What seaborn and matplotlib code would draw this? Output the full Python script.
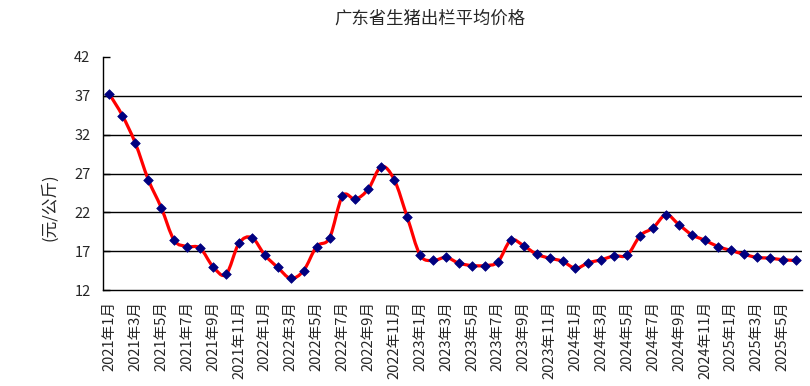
import numpy as np
import pandas as pd
import seaborn as sns
import matplotlib.pyplot as plt
from matplotlib.path import Path
from matplotlib.patches import PathPatch

# monthly average price, 2021-01 .. 2025-06 (yuan / kg)
years = [2021] * 12 + [2022] * 12 + [2023] * 12 + [2024] * 12 + [2025] * 6
months = list(range(1, 13)) * 4 + list(range(1, 7))
prices = [
    37.2, 34.45, 30.9, 26.2, 22.6, 18.4, 17.6, 17.4, 15.0, 14.0, 18.0, 18.75,
    16.5, 14.9, 13.5, 14.5, 17.6, 18.7, 24.1, 23.7, 25.0, 27.9, 26.2, 21.4,
    16.5, 15.8, 16.2, 15.45, 15.15, 15.15, 15.6, 18.4, 17.7, 16.6, 16.1, 15.7,
    14.8, 15.5, 15.9, 16.4, 16.5, 19.0, 20.0, 21.7, 20.4, 19.1, 18.4, 17.6,
    17.1, 16.6, 16.2, 16.1, 15.9, 15.8,
]
y_ticks = [12, 17, 22, 27, 32, 37, 42]
title = "广东省生猪出栏平均价格"
y_label = "(元/公斤)"

df = pd.DataFrame({"year": years, "month": months, "price": prices})
df["idx"] = np.arange(len(df))
df["label"] = df["year"].astype(str) + "年" + df["month"].astype(str) + "月"

sns.set_style("white")
plt.rcParams["font.family"] = ["Noto Sans CJK SC", "DejaVu Sans"]

fig = plt.figure(figsize=(8.1, 3.86), dpi=100)
ax = fig.add_axes([103 / 810, 1 - 290 / 386, 699 / 810, 233 / 386])

# smoothed line (catmull-rom drawn as bezier segments, like excel's smooth line)
pts = df[["idx", "price"]].to_numpy(dtype=float)
ext = np.vstack([pts[0], pts, pts[-1]])
verts = [tuple(pts[0])]
codes = [Path.MOVETO]
for i in range(1, len(ext) - 2):
    p0, p1, p2, p3 = ext[i - 1], ext[i], ext[i + 1], ext[i + 2]
    c1 = p1 + (p2 - p0) / 6
    c2 = p2 - (p3 - p1) / 6
    verts += [tuple(c1), tuple(c2), tuple(p2)]
    codes += [Path.CURVE4] * 3
ax.add_patch(PathPatch(Path(verts, codes), facecolor="none", edgecolor="#ff0000",
                       lw=2.3, transform=ax.transData, zorder=3))

sns.scatterplot(data=df, x="idx", y="price", marker="D", s=24, color="#000080",
                edgecolor="#000080", linewidth=0.5, ax=ax, zorder=4, legend=False)

for v in y_ticks[1:-1]:
    ax.axhline(v, color="black", lw=1.0, zorder=1)

ax.set_xlim(-0.5, len(df) - 0.5)
ax.set_ylim(y_ticks[0], y_ticks[-1])
ax.set_yticks(y_ticks)
ax.set_yticklabels([str(v) for v in y_ticks], fontsize=10.5)

ax.set_xticks(np.arange(-0.5, len(df), 2))
ax.set_xticklabels([])
ax.set_xticks(df["idx"][::2], minor=True)
ax.set_xticklabels(df["label"][::2], minor=True, rotation=90, fontsize=10.5, va="top")
ax.tick_params(axis="x", which="major", direction="in", length=5, color="black", width=1)
ax.tick_params(axis="x", which="minor", length=0, pad=8)
ax.tick_params(axis="y", direction="in", length=5, color="black", width=1, pad=9, left=True)

ax.set_xlabel("")
ax.set_ylabel("")
for s in ["top", "right"]:
    ax.spines[s].set_visible(False)
for s in ["left", "bottom"]:
    ax.spines[s].set_color("black")
    ax.spines[s].set_linewidth(1.0)

fig.text(430 / 810, 1 - 19 / 386, title, ha="center", va="center", fontsize=12.5)
fig.text(50 / 810, 1 - 207 / 386, y_label, ha="center", va="center",
         rotation=90, fontsize=12, fontweight="medium")

fig.savefig("out.png", dpi=100)
